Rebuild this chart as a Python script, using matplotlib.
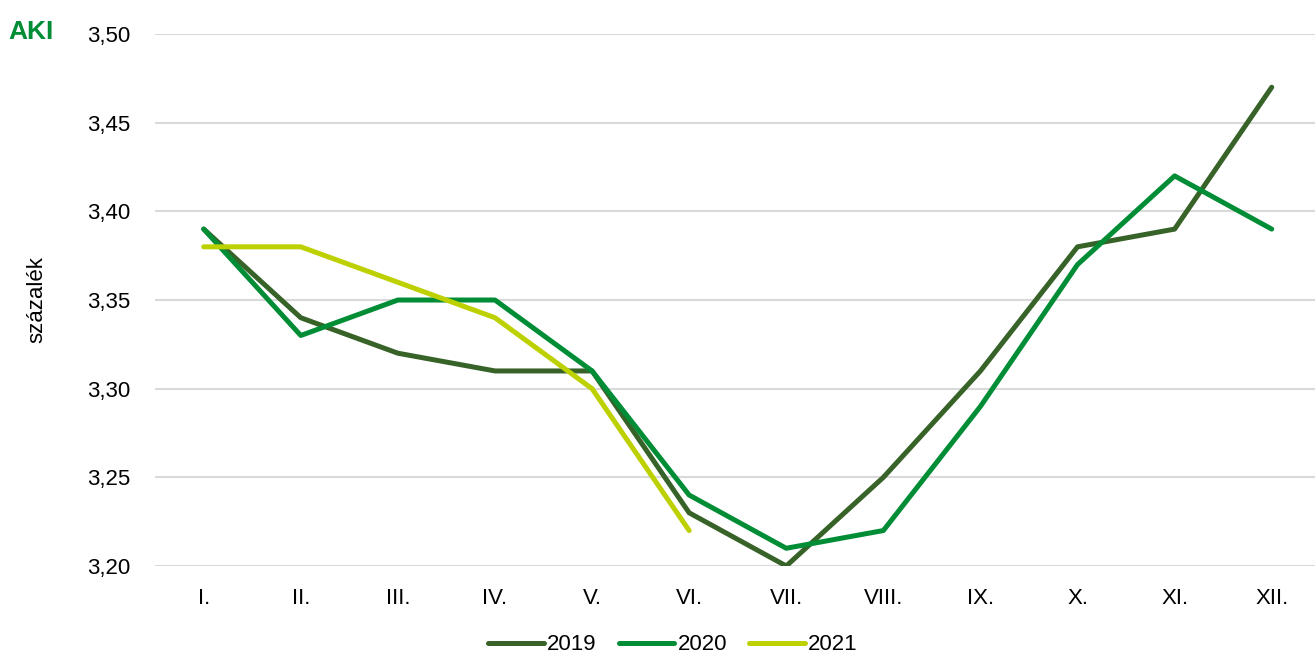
import matplotlib
matplotlib.use("Agg")
from matplotlib import pyplot as plt

plt.rcParams['font.family'] = ['Liberation Sans', 'DejaVu Sans']

# Adatok
honapok = ["I.", "II.", "III.", "IV.", "V.", "VI.", "VII.", "VIII.", "IX.", "X.", "XI.", "XII."]
ev2019 = [3.39, 3.34, 3.32, 3.31, 3.31, 3.23, 3.20, 3.25, 3.31, 3.38, 3.39, 3.47]
ev2020 = [3.39, 3.33, 3.35, 3.35, 3.31, 3.24, 3.21, 3.22, 3.29, 3.37, 3.42, 3.39]
ev2021 = [3.38, 3.38, 3.36, 3.34, 3.30, 3.22]
yticks = [3.20, 3.25, 3.30, 3.35, 3.40, 3.45, 3.50]

fig = plt.figure(figsize=(13.15, 6.57), dpi=100)
ax = fig.add_axes([0.118, 0.1385, 0.886, 0.8097])

ax.plot(range(len(ev2019)), ev2019, color="#376228", lw=3.6, label="2019", solid_capstyle="round")
ax.plot(range(len(ev2020)), ev2020, color="#008D36", lw=3.6, label="2020", solid_capstyle="round")
ax.plot(range(len(ev2021)), ev2021, color="#BDD000", lw=3.6, label="2021", solid_capstyle="round")

ax.set_xlim(-0.5, 11.5)
ax.set_ylim(3.20, 3.50)
ax.set_yticks(yticks)
ax.set_yticklabels([("%.2f" % v).replace(".", ",") for v in yticks])
ax.set_xticks(range(len(honapok)))
ax.set_xticklabels(honapok)
ax.tick_params(axis="both", length=0, labelsize=16)
ax.tick_params(axis="x", pad=16)
ax.tick_params(axis="y", pad=18)
ax.grid(axis="y", color="#d9d9d9", lw=1.5)
ax.set_axisbelow(True)
for s in ax.spines.values():
    s.set_visible(False)

fig.text(37 / 1315, 1 - 300 / 657, "százalék", rotation=90, ha="center", va="center", fontsize=16)

fig.legend(loc="center", bbox_to_anchor=(673 / 1315, 1 - 645 / 657), ncol=3, frameon=False,
           fontsize=16, handlelength=2.5, handletextpad=0.15, columnspacing=1.0)

# logo
fig.text(8 / 1315, 1 - 32 / 657, "AKI", color="#008D36", fontsize=19, fontweight="bold",
         ha="left", va="center")

fig.savefig("out.png", dpi=100)
